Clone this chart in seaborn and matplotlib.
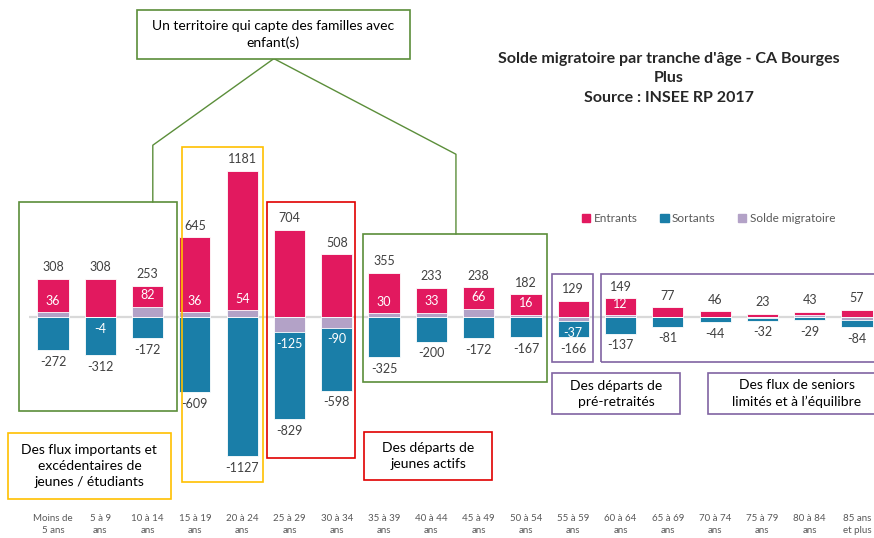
import numpy as np
import matplotlib.pyplot as plt
import seaborn as sns
from matplotlib.patches import Rectangle, Patch

# data
ages = ['Moins de\n5 ans', '5 à 9\nans', '10 à 14\nans', '15 à 19\nans', '20 à 24\nans',
        '25 à 29\nans', '30 à 34\nans', '35 à 39\nans', '40 à 44\nans', '45 à 49\nans',
        '50 à 54\nans', '55 à 59\nans', '60 à 64\nans', '65 à 69\nans', '70 à 74\nans',
        '75 à 79\nans', '80 à 84\nans', '85 ans\net plus']
entrants = [308, 308, 253, 645, 1181, 704, 508, 355, 233, 238, 182, 129, 149, 77, 46, 23, 43, 57]
sortants = [-272, -312, -172, -609, -1127, -829, -598, -325, -200, -172, -167, -166, -137, -81, -44, -32, -29, -84]
solde = [36, -4, 82, 36, 54, -125, -90, 30, 33, 66, 16, -37, 12, -4, 2, -9, 14, -27]
solde_labelled = [True] * 13 + [False] * 5

PINK = '#E2195F'
BLUE = '#1A7EA8'
LILAC = '#B3A2C7'
GREEN = '#5B8E3A'
YELLOW = '#FFC000'
RED = '#E00000'
PURPLE = '#8064A2'
GREY = '#404040'

sns.set_style('white')
plt.rcParams['font.family'] = ['Lato', 'DejaVu Sans']

fig = plt.figure(figsize=(8.74, 5.38), dpi=100)
ax = fig.add_axes([0.0336, 0.1126, 0.974, 0.620])

sns.barplot(x=ages, y=entrants, color=PINK, saturation=1, width=0.66, ax=ax,
            linewidth=0.6, edgecolor='white', zorder=2)
sns.barplot(x=ages, y=sortants, color=BLUE, saturation=1, width=0.66, ax=ax,
            linewidth=0.6, edgecolor='white', zorder=2)
sns.barplot(x=ages, y=solde, color=LILAC, saturation=1, width=0.66, ax=ax,
            linewidth=0.6, edgecolor='white', zorder=3)

ax.axhline(0, color='#D9D9D9', lw=1.6, zorder=1)

ax.bar_label(ax.containers[0], labels=[str(v) for v in entrants], padding=4,
             fontsize=9, color=GREY)
ax.bar_label(ax.containers[1], labels=[str(v) for v in sortants], padding=4,
             fontsize=9, color=GREY)
ax.bar_label(ax.containers[2], labels=[str(v) if s else '' for v, s in zip(solde, solde_labelled)],
             padding=4, fontsize=9, color='white', zorder=6)

ax.set_xlim(-0.5, 17.5)
ax.set_ylim(-1300, 1400)
ax.set_xticks(range(len(ages)))
ax.set_xticklabels(ages, fontsize=7, color='#595959', linespacing=1.5)
ax.tick_params(axis='x', length=0, pad=26)
ax.set_yticks([])
ax.set_xlabel('')
ax.set_ylabel('')
sns.despine(ax=ax, left=True, bottom=True)
ax.patch.set_alpha(0)


def frame(x0, x1, y0, y1, color, lw=1.2):
    ax.add_patch(Rectangle((x0, y0), x1 - x0, y1 - y0, fill=False, edgecolor=color,
                           lw=lw, clip_on=False, zorder=5))


def note(x0, x1, y0, y1, color, txt):
    ax.add_patch(Rectangle((x0, y0), x1 - x0, y1 - y0, facecolor='white', edgecolor=color,
                           lw=1.2, clip_on=False, zorder=5))
    ax.text((x0 + x1) / 2, (y0 + y1) / 2, txt, ha='center', va='center', fontsize=10,
            color='black', linespacing=1.4, zorder=6, clip_on=False)


# group frames
frame(-0.72, 2.62, -760, 928, GREEN)
frame(2.72, 4.43, -1337, 1373, YELLOW)
frame(4.52, 6.38, -1143, 928, RED)
frame(6.55, 10.44, -528, 669, GREEN)
frame(10.55, 11.42, -366, 345, PURPLE)
frame(11.58, 17.6, -366, 345, PURPLE)

# roof line to the top note
ax.plot([2.11, 2.11, 4.67, 8.52, 8.52], [928, 1389, 2090, 1316, 669], color=GREEN,
        lw=1.0, clip_on=False, zorder=4)

note(1.77, 7.55, 2090, 2481, GREEN, 'Un territoire qui capte des familles avec\nenfant(s)')
note(-0.95, 2.49, -1475, -942, YELLOW, 'Des flux importants et\nexcédentaires de\njeunes / étudiants')
note(6.58, 9.28, -1321, -933, RED, 'Des départs de\njeunes actifs')
note(10.55, 13.26, -787, -455, PURPLE, 'Des départs de\npré-retraités')
note(13.85, 17.6, -787, -455, PURPLE, 'Des flux de seniors\nlimités et à l’équilibre')

fig.text(0.765, 0.855, "Solde migratoire par tranche d'âge - CA Bourges\nPlus\nSource : INSEE RP 2017",
         ha='center', va='center', fontsize=11.5, fontweight='bold', linespacing=1.5)

handles = [Patch(color=PINK, label='Entrants'), Patch(color=BLUE, label='Sortants'),
           Patch(color=LILAC, label='Solde migratoire')]
fig.legend(handles=handles, loc='center', bbox_to_anchor=(0.811, 0.593), ncol=3,
           frameon=False, fontsize=8.5, handlelength=0.7, handleheight=0.7,
           handletextpad=0.3, columnspacing=1.9, labelcolor='#595959')

fig.savefig('out.png', dpi=100)
